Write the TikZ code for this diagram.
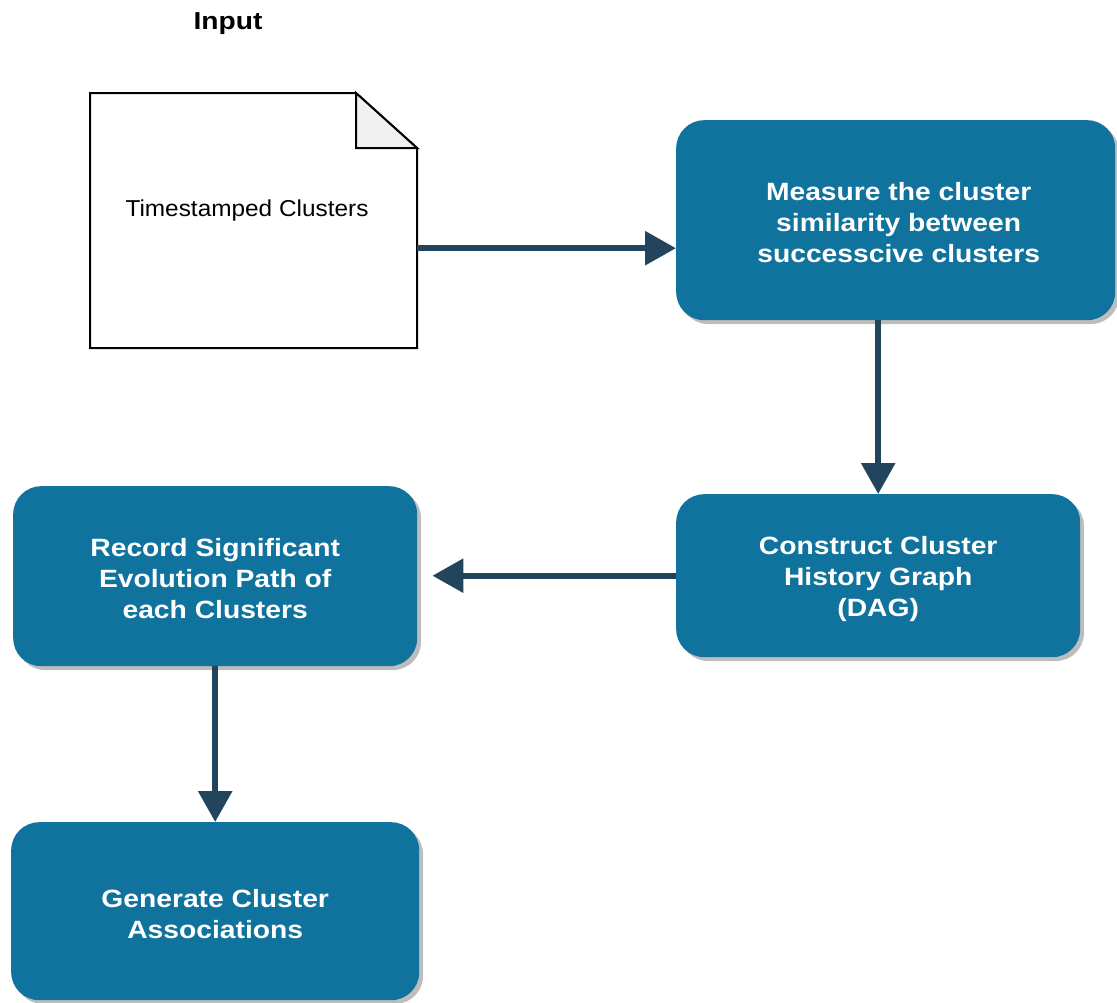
\documentclass[tikz,border=0pt]{standalone}
\usepackage{fontspec}
\setmainfont{Liberation Sans}
\usetikzlibrary{arrows.meta,calc}
\definecolor{boxblue}{HTML}{10739E}
\definecolor{linkblue}{HTML}{23445D}
\definecolor{foldgray}{HTML}{F0F0F0}
\definecolor{shadowgray}{HTML}{BDBDBD}
\tikzset{
  stepbox/.style={rectangle, rounded corners=28pt, fill=boxblue, draw=none, inner sep=0pt},
  boxshadow/.style={rectangle, rounded corners=28pt, fill=shadowgray, draw=none},
  steptext/.style={text=white, align=center, inner sep=0pt, transform shape, xscale=1.13,
    font=\fontsize{25pt}{31pt}\selectfont\bfseries},
  link/.style={draw=linkblue, line width=6pt, -{Triangle[length=31pt,width=33pt]}},
}
\newcommand{\stepnode}[5]{%
  % #1 name, #2 left, #3 top, #4 right, #5 bottom
  \fill[boxshadow] (#2+4,#3+4) rectangle (#4+4,#5+4);
  \node[stepbox, minimum width=#4-#2, minimum height=#5-#3, anchor=north west] (#1) at (#2,#3) {};
}
\begin{document}
\begin{tikzpicture}[x=1pt, y=-1pt]
  \useasboundingbox (0,0) rectangle (1117,1002);

  % heading
  \node[inner sep=0pt, transform shape, xscale=1.15, font=\fontsize{24.5pt}{28pt}\selectfont\bfseries] (inputlabel) at (228,24) {Input};

  % input document with a folded corner
  \node[rectangle, minimum width=327pt, minimum height=255pt, anchor=north west, inner sep=0pt] (doc) at (90,93) {};
  \filldraw[fill=white, draw=black, line width=2pt, line join=miter]
    (90,93) -- (356,93) -- (417,148) -- (417,348) -- (90,348) -- cycle;
  \filldraw[fill=foldgray, draw=black, line width=2pt, line join=miter]
    (356,93) -- (417,148) -- (356,148) -- cycle;
  \node[inner sep=0pt, transform shape, xscale=1.06, font=\fontsize{23pt}{27pt}\selectfont] (doctext) at (247,211) {Timestamped Clusters};

  % process steps
  \stepnode{measure}{676}{120}{1115}{320}
  \stepnode{construct}{676}{494}{1080}{657}
  \stepnode{record}{13}{486}{417}{666}
  \stepnode{generate}{11}{822}{419}{1000}

  \node[steptext] (measuretext) at ($(measure.center)+(3,2)$) {Measure the cluster\\similarity between\\successcive clusters};
  \node[steptext] (constructtext) at ($(construct.center)+(0,3)$) {Construct Cluster\\History Graph\\(DAG)};
  \node[steptext] (recordtext) at ($(record.center)+(0,2)$) {Record Significant\\Evolution Path of\\each Clusters};
  \node[steptext] (generatetext) at ($(generate.center)+(0,3)$) {Generate Cluster\\Associations};

  % connectors
  \draw[link] ([yshift=-27.5pt]doc.east) -- ([yshift=-28pt]measure.west);
  \draw[link] (measure.south -| construct.north) -- (construct.north);
  \draw[link] (construct.west) -- ([xshift=15pt]record.east |- construct.west);
  \draw[link] (record.south) -- (generate.north -| record.south);
\end{tikzpicture}
\end{document}
